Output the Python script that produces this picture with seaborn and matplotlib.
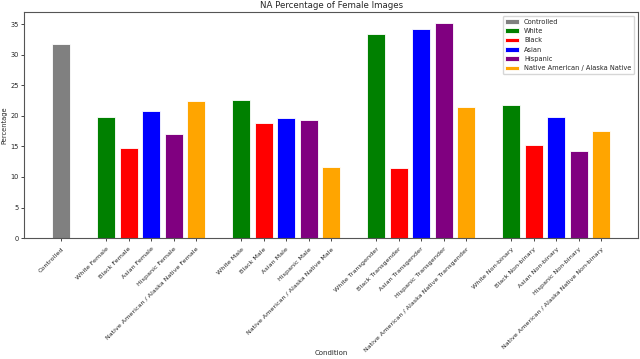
import pandas as pd
import matplotlib
matplotlib.use('Agg')
import matplotlib.pyplot as plt
import seaborn as sns

# Data
groups = ['Female', 'Male', 'Transgender', 'Non-binary']
races = ['White', 'Black', 'Asian', 'Hispanic', 'Native American / Alaska Native']
controlled_value = 31.8
female_values = [19.8, 14.7, 20.8, 17.1, 22.5]
male_values = [22.7, 18.8, 19.6, 19.4, 11.7]
trans_values = [33.4, 11.5, 34.3, 35.3, 21.4]
nonbinary_values = [21.8, 15.3, 19.9, 14.3, 17.5]
colors = {'Controlled': 'gray', 'White': 'green', 'Black': 'red', 'Asian': 'blue',
          'Hispanic': 'purple', 'Native American / Alaska Native': 'orange'}

# Build the table, with empty slots between groups
rows = [('Controlled', 'Controlled', controlled_value)]
order = ['Controlled']
for i, (group, values) in enumerate(zip(groups, [female_values, male_values, trans_values, nonbinary_values])):
    order.append(' ' * (i + 1))  # gap
    for race, v in zip(races, values):
        name = f'{race} {group}'
        rows.append((name, race, v))
        order.append(name)
df = pd.DataFrame(rows, columns=['Condition', 'Race', 'Percentage'])

sns.set_style('white')
plt.rcParams['font.family'] = ['DejaVu Sans']
fig, ax = plt.subplots(figsize=(6.4, 3.59), dpi=100)
sns.barplot(data=df, x='Condition', y='Percentage', hue='Race', order=order,
            hue_order=list(colors), palette=colors, saturation=1, width=0.8,
            edgecolor='white', linewidth=0.6, ax=ax)

# Ticks only on the real bars
tick_pos = [order.index(c) for c in df['Condition']]
ax.set_xticks(tick_pos)
ax.set_xticklabels(df['Condition'], rotation=45, ha='right', fontsize=4.6,
                   rotation_mode='anchor')
ax.tick_params(axis='y', labelsize=4.8, pad=1.5)
ax.tick_params(axis='both', length=2.5, width=0.6, direction='out', bottom=True, left=True)
ax.set_xlim(-1.64, len(order) - 1 + 1.64)
ax.set_xlabel('Condition', fontsize=5)
ax.xaxis.set_label_coords(0.5, -0.495)
ax.set_ylabel('Percentage', fontsize=4.8, va='center')
ax.yaxis.set_label_coords(-0.033, 0.5)
ax.set_title('NA Percentage of Female Images', fontsize=6.2, pad=3)
for s in ax.spines.values():
    s.set_color('#555555')
    s.set_linewidth(0.8)
ax.legend(loc='upper right', fontsize=4.8, title=None, borderaxespad=0.6)
plt.subplots_adjust(left=0.038, right=0.997, top=0.967, bottom=0.337)
plt.savefig('out.png', dpi=100)
